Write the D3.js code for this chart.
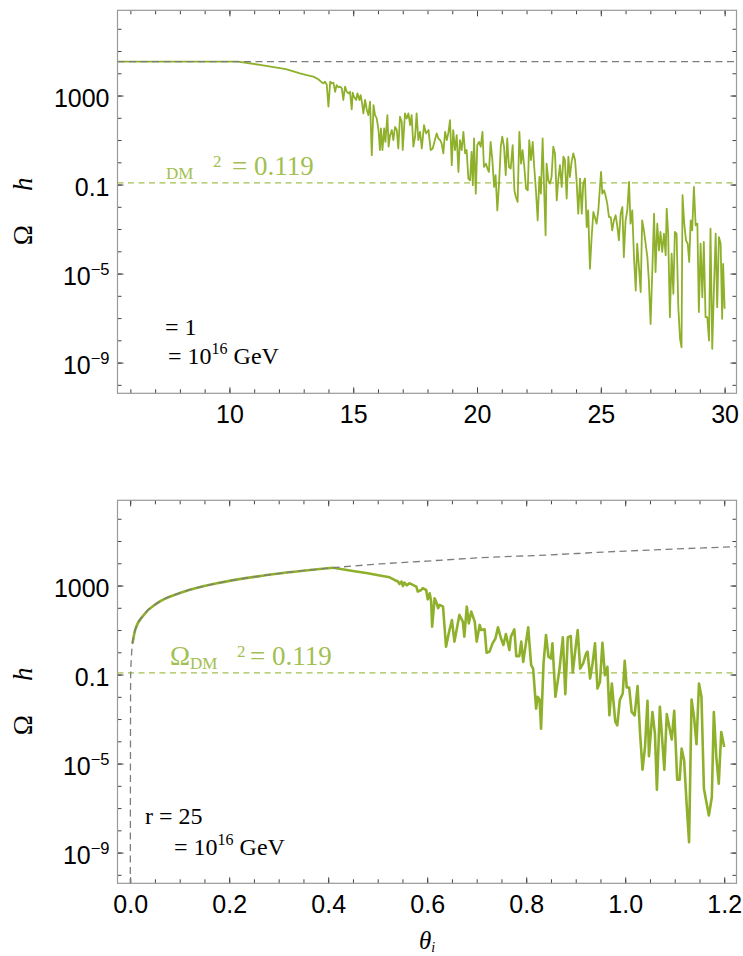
<!DOCTYPE html>
<html>
<head>
<meta charset="utf-8">
<script src="https://cdn.jsdelivr.net/npm/d3@7"></script>
<style>
  body { margin: 0; background: #fff; }
  svg text { fill: #000; }
</style>
</head>
<body>
<div id="chart"></div>
<script>

// ---- data (theta, log10 of Omega h^2) ----

// upper panel, r = 1
const topFreeTheta = [5.48, 30.48];
const topFreeLog = [4.52, 4.52];

const topNumTheta = [
    5.48, 10.35, 11.30, 12.28, 12.85, 13.12, 13.39, 13.59, 13.73, 13.80,
    13.86, 13.93, 14.00, 14.07, 14.13, 14.20, 14.27, 14.33, 14.40, 14.47,
    14.54, 14.60, 14.67, 14.74, 14.81, 14.87, 14.94, 14.98, 15.03, 15.12,
    15.17, 15.25, 15.30, 15.36, 15.41, 15.48, 15.55, 15.61, 15.68, 15.75,
    15.82, 15.88, 15.95, 16.02, 16.08, 16.12, 16.18, 16.25, 16.30, 16.38,
    16.43, 16.49, 16.56, 16.62, 16.69, 16.76, 16.82, 16.89, 16.96, 17.00,
    17.09, 17.16, 17.23, 17.30, 17.36, 17.43, 17.50, 17.56, 17.63, 17.70,
    17.77, 17.86, 17.94, 18.04, 18.13, 18.21, 18.30, 18.37, 18.44, 18.51,
    18.57, 18.64, 18.71, 18.78, 18.84, 18.91, 18.98, 19.04, 19.11, 19.18,
    19.25, 19.31, 19.38, 19.45, 19.52, 19.58, 19.65, 19.72, 19.78, 19.83,
    19.88, 19.95, 20.01, 20.08, 20.15, 20.22, 20.28, 20.36, 20.42, 20.48,
    20.55, 20.62, 20.69, 20.75, 20.82, 20.89, 20.96, 21.02, 21.09, 21.16,
    21.22, 21.29, 21.36, 21.44, 21.51, 21.57, 21.64, 21.71, 21.78, 21.84,
    21.91, 21.98, 22.05, 22.11, 22.18, 22.25, 22.31, 22.38, 22.45, 22.52,
    22.58, 22.65, 22.72, 22.77, 22.81, 22.88, 22.95, 23.01, 23.08, 23.15,
    23.22, 23.28, 23.35, 23.42, 23.49, 23.55, 23.62, 23.69, 23.75, 23.82,
    23.89, 23.96, 24.02, 24.09, 24.16, 24.23, 24.29, 24.36, 24.43, 24.49,
    24.56, 24.63, 24.70, 24.76, 24.83, 24.90, 24.97, 25.01, 25.06, 25.13,
    25.19, 25.26, 25.33, 25.40, 25.46, 25.53, 25.60, 25.67, 25.73, 25.80,
    25.87, 25.93, 26.00, 26.07, 26.14, 26.20, 26.27, 26.34, 26.41, 26.47,
    26.54, 26.61, 26.67, 26.74, 26.81, 26.88, 26.94, 27.01, 27.08, 27.15,
    27.21, 27.28, 27.35, 27.41, 27.48, 27.55, 27.62, 27.66, 27.72, 27.79,
    27.86, 27.93, 27.99, 28.06, 28.13, 28.20, 28.26, 28.30, 28.37, 28.44,
    28.51, 28.57, 28.63, 28.69, 28.76, 28.83, 28.90, 28.96, 29.03, 29.10,
    29.16, 29.23, 29.30, 29.37, 29.43, 29.50, 29.57, 29.64, 29.70, 29.77,
    29.84, 29.90, 29.94, 30.00
];
const topNumLog = [
    4.52, 4.52, 4.37, 4.19, 4.00, 3.92, 3.85, 3.73, 3.59, 3.55,
    3.62, 3.50, 2.50, 3.62, 3.55, 3.58, 3.17, 3.47, 3.37, 3.40,
    3.32, 2.80, 3.40, 3.17, 3.10, 3.17, 2.38, 3.13, 2.95, 2.80,
    3.10, 2.80, 3.02, 2.65, 2.20, 2.80, 2.35, 2.12, 2.72, 0.32,
    2.57, 2.12, 1.97, 1.45, 0.55, 1.52, 0.55, 1.52, 0.92, 2.12,
    0.70, 1.22, 1.45, 1.00, 1.59, 1.45, 0.62, 2.05, 1.82, 0.55,
    2.20, 1.97, 2.20, 1.67, 2.12, 0.70, 1.15, 2.20, 1.00, 1.37,
    0.62, 1.67, 1.30, 1.45, 0.55, 0.62, 1.00, 1.30, 1.07, 1.00,
    0.85, 0.40, 1.37, 1.00, 1.30, 1.89, -0.13, 1.45, 0.55, 1.22,
    -0.43, 1.00, 0.55, 1.37, 0.40, 0.55, -0.73, -0.81, 0.47, -1.03,
    1.07, -1.41, 0.77, 0.92, 0.70, 1.37, -0.21, -0.06, -0.28, -0.43,
    0.92, 0.10, -1.11, -0.58, -2.16, -0.96, 0.70, 1.15, 0.70, -0.58,
    1.07, -0.21, -0.28, 0.77, -1.26, -1.56, -1.78, 1.37, -0.06, 0.55,
    -0.21, -1.18, -1.26, 1.00, 0.10, 0.92, -0.21, -1.26, -2.61, -0.66,
    -1.41, 1.07, -1.56, -3.28, -0.06, -0.81, -0.96, -0.66, 0.70, 0.40,
    -1.71, -0.81, -0.13, -1.11, 0.25, 0.10, -1.63, 0.25, -0.66, 0.02,
    0.40, 0.10, -0.81, -2.31, -0.73, -2.31, -0.96, -0.73, -2.91, -2.16,
    -4.78, -3.36, -2.23, -2.46, -2.76, -2.16, -1.03, -0.43, -1.41, -1.26,
    -1.48, -1.86, -2.46, -2.46, -3.06, -2.61, -2.38, -2.91, -3.51, -2.31,
    -2.01, -4.26, -2.61, -2.16, -0.88, -2.76, -2.16, -4.26, -5.76, -3.66,
    -4.71, -5.83, -2.61, -3.06, -3.66, -4.26, -5.31, -7.26, -4.86, -2.31,
    -4.93, -2.76, -3.96, -3.13, -4.03, -3.21, -4.18, -2.08, -3.21, -6.96,
    -4.11, -5.91, -3.13, -3.21, -6.51, -7.93, -8.31, -1.48, -2.76, -3.51,
    -3.66, -4.48, -2.61, -3.06, -1.11, -2.83, -2.76, -6.73, -3.66, -6.06,
    -3.58, -6.96, -6.96, -8.01, -2.98, -8.38, -5.61, -3.21, -6.51, -3.36,
    -3.66, -7.03, -4.56, -6.58
];

// lower panel, r = 25
const botFreeTheta = [
    0.0002, 0.001, 0.0025, 0.0047, 0.010, 0.027, 0.054, 0.108, 0.175, 0.276,
    0.410, 0.504, 0.600, 0.700, 0.840, 1.000, 1.100, 1.224
];
const botFreeLog = [
    -11, -1.00, -0.20, 0.40, 1.00, 1.67, 2.20, 2.72, 3.10, 3.47,
    3.80, 3.97, 4.10, 4.24, 4.37, 4.55, 4.64, 4.75
];

const botRiseTheta = [0.0047, 0.010, 0.027, 0.054, 0.108, 0.175, 0.276, 0.410];
const botRiseLog = [0.40, 1.00, 1.67, 2.20, 2.72, 3.10, 3.47, 3.80];

const botNumTheta = [
    0.410, 0.450, 0.480, 0.504, 0.524, 0.534, 0.541, 0.544, 0.548, 0.551,
    0.554, 0.559, 0.564, 0.571, 0.578, 0.581, 0.588, 0.591, 0.598, 0.601,
    0.605, 0.608, 0.610, 0.615, 0.618, 0.622, 0.625, 0.632, 0.638, 0.645,
    0.650, 0.655, 0.665, 0.672, 0.675, 0.680, 0.684, 0.689, 0.696, 0.700,
    0.706, 0.709, 0.716, 0.720, 0.726, 0.732, 0.738, 0.743, 0.749, 0.754,
    0.759, 0.766, 0.769, 0.776, 0.780, 0.786, 0.790, 0.794, 0.804, 0.810,
    0.814, 0.820, 0.823, 0.827, 0.830, 0.835, 0.840, 0.845, 0.850, 0.853,
    0.859, 0.867, 0.874, 0.879, 0.884, 0.890, 0.894, 0.900, 0.904, 0.909,
    0.915, 0.921, 0.924, 0.929, 0.934, 0.939, 0.944, 0.949, 0.954, 0.959,
    0.964, 0.968, 0.973, 0.980, 0.984, 0.989, 0.995, 0.999, 1.003, 1.008,
    1.013, 1.019, 1.025, 1.030, 1.035, 1.040, 1.045, 1.048, 1.055, 1.060,
    1.064, 1.070, 1.079, 1.084, 1.089, 1.094, 1.099, 1.105, 1.110, 1.114,
    1.119, 1.124, 1.129, 1.134, 1.139, 1.144, 1.149, 1.154, 1.159, 1.169,
    1.175, 1.179, 1.184, 1.189, 1.194, 1.200
];
const botNumLog = [
    3.80, 3.65, 3.55, 3.45, 3.37, 3.25, 3.18, 3.07, 3.18, 2.98,
    3.13, 3.01, 3.10, 3.03, 2.95, 2.73, 2.80, 2.88, 2.80, 2.38,
    2.65, 2.28, 1.15, 2.43, 2.28, 1.98, 2.13, 2.05, 0.25, 1.00,
    1.45, 0.48, 1.68, 1.38, 0.70, 2.05, 1.30, 1.83, 1.38, 0.48,
    1.23, 1.00, 1.03, -0.02, 0.03, 0.40, 0.63, 1.12, 0.63, 0.33,
    0.82, 0.10, 0.70, 1.03, -0.17, -0.17, 0.48, -0.43, 1.12, -0.58,
    -0.73, -2.53, -2.00, -2.12, -3.43, -0.50, 0.78, -0.20, -0.28, 0.40,
    -2.00, -0.80, 0.67, -1.88, 0.67, 0.73, -0.91, 0.25, 1.00, -0.73,
    -0.50, -0.05, 0.03, -1.18, -0.50, 0.40, -1.63, -1.33, 0.43, -1.03,
    -0.65, -2.83, -1.40, -3.13, -3.28, -2.15, -1.85, -0.38, -1.58, -1.58,
    -2.68, -2.83, -1.52, -3.65, -5.27, -4.25, -2.18, -4.67, -2.68, -3.65,
    -6.17, -2.45, -5.27, -2.78, -3.35, -3.92, -2.63, -5.72, -5.72, -4.33,
    -4.85, -6.80, -8.53, -2.12, -2.90, -4.13, -1.40, -2.00, -6.13, -7.33,
    -6.50, -2.68, -4.70, -5.90, -3.58, -4.25
];

const omegaDM = 0.119;

// axis ticks
const yMajor = [1e-9, 1e-5, 0.1, 1000];
const yMinorExp = d3.range(-10, 7);
const topXMajor = [10, 15, 20, 25, 30];
const topXMinor = d3.range(6, 31);
const botXMajor = [0, 0.2, 0.4, 0.6, 0.8, 1.0, 1.2];
const botXMinor = d3.range(0, 25).map(i => i * 0.05);

// ---- layout ----
const width = 743, height = 956;
const frameLeft = 117.5, frameRight = 736.5;
const frameH = 383;
const green = "#8fb02b";
const greenLight = "#a2c04f";
const gray = "#7d7d7d";
const sansFont = "'Liberation Sans', Arial, Helvetica, sans-serif";
const serifFont = "'Liberation Serif', 'Times New Roman', serif";

const svg = d3.select("#chart")
    .append("svg")
    .attr("width", width)
    .attr("height", height);

const y = d3.scaleLog()
    .domain([Math.pow(10, -10.38), Math.pow(10, 6.83)])
    .range([frameH, 0]);

function drawPanel(top, xDomain, xMajor, xMinor, xFormat, id) {
    const g = svg.append("g").attr("transform", `translate(0, ${top})`);
    const x = d3.scaleLinear().domain(xDomain).range([frameLeft, frameRight]);

    g.append("clipPath").attr("id", id)
        .append("rect")
        .attr("x", frameLeft).attr("y", 0)
        .attr("width", frameRight - frameLeft).attr("height", frameH);

    // ticks on all four sides, pointing in
    const axes = [
        [d3.axisBottom(x).tickValues(xMajor).tickSize(-6).tickPadding(12).tickFormat(xFormat), `translate(0, ${frameH})`],
        [d3.axisBottom(x).tickValues(xMinor).tickSize(-4).tickFormat(""), `translate(0, ${frameH})`],
        [d3.axisTop(x).tickValues(xMajor).tickSize(-6).tickFormat(""), "translate(0, 0)"],
        [d3.axisTop(x).tickValues(xMinor).tickSize(-4).tickFormat(""), "translate(0, 0)"],
        [d3.axisLeft(y).tickValues(yMajor).tickSize(-6).tickPadding(8).tickFormat(""), `translate(${frameLeft}, 0)`],
        [d3.axisLeft(y).tickValues(yMinorExp.map(e => Math.pow(10, e))).tickSize(-4).tickFormat(""), `translate(${frameLeft}, 0)`],
        [d3.axisRight(y).tickValues(yMajor).tickSize(-6).tickFormat(""), `translate(${frameRight}, 0)`],
        [d3.axisRight(y).tickValues(yMinorExp.map(e => Math.pow(10, e))).tickSize(-4).tickFormat(""), `translate(${frameRight}, 0)`]
    ];
    axes.forEach(([axis, tr], i) => {
        const a = g.append("g").attr("transform", tr).call(axis);
        a.select(".domain").remove();
        a.selectAll(".tick line").attr("stroke", "#444").attr("stroke-width", 1);
        a.selectAll(".tick text")
            .attr("font-family", sansFont)
            .attr("font-size", 25)
            .attr("fill", "#000");
        if (i === 4) {
            // y labels with superscripts
            a.selectAll(".tick text").each(function (d) {
                const t = d3.select(this).text("").attr("dy", "0.45em");
                const e = Math.round(Math.log10(d));
                if (e < -2) {
                    t.append("tspan").text("10");
                    t.append("tspan").attr("font-size", 16.5).attr("dy", -10).text("\u2212" + (-e));
                } else {
                    t.text(d3.format("~g")(d));
                }
            });
        }
    });

    // frame
    g.append("rect")
        .attr("x", frameLeft).attr("y", 0)
        .attr("width", frameRight - frameLeft).attr("height", frameH)
        .attr("fill", "none")
        .attr("stroke", "#9a9a9a")
        .attr("stroke-width", 1.2);

    return { g, x };
}

function linePath(x, curve) {
    return d3.line()
        .x(d => x(d[0]))
        .y(d => y(Math.pow(10, d[1])))
        .curve(curve || d3.curveLinear);
}

// ---------- upper panel ----------
const P1 = drawPanel(10.3, [5.48, 30.48], topXMajor, topXMinor, d3.format("d"), "clipTop");
const plot1 = P1.g.append("g").attr("clip-path", "url(#clipTop)");

plot1.append("line")
    .attr("x1", frameLeft).attr("x2", frameRight)
    .attr("y1", y(omegaDM)).attr("y2", y(omegaDM))
    .attr("stroke", greenLight).attr("stroke-width", 1.3)
    .attr("stroke-dasharray", "6,4.5");

plot1.append("path")
    .datum(d3.zip(topNumTheta, topNumLog))
    .attr("d", linePath(P1.x))
    .attr("fill", "none").attr("stroke", green)
    .attr("stroke-width", 1.8).attr("stroke-linejoin", "round");

plot1.append("path")
    .datum(d3.zip(topFreeTheta, topFreeLog))
    .attr("d", linePath(P1.x))
    .attr("fill", "none").attr("stroke", gray)
    .attr("stroke-width", 1.3).attr("stroke-dasharray", "7,4.5");

// ---------- lower panel ----------
const P2 = drawPanel(500.3, [-0.0256, 1.2248], botXMajor, botXMinor, d3.format(".1f"), "clipBot");
const plot2 = P2.g.append("g").attr("clip-path", "url(#clipBot)");

plot2.append("line")
    .attr("x1", frameLeft).attr("x2", frameRight)
    .attr("y1", y(omegaDM)).attr("y2", y(omegaDM))
    .attr("stroke", greenLight).attr("stroke-width", 1.3)
    .attr("stroke-dasharray", "6,4.5");

plot2.append("path")
    .datum(d3.zip(botRiseTheta, botRiseLog))
    .attr("d", linePath(P2.x, d3.curveMonotoneX))
    .attr("fill", "none").attr("stroke", green)
    .attr("stroke-width", 2.6);

plot2.append("path")
    .datum(d3.zip(botNumTheta, botNumLog))
    .attr("d", linePath(P2.x))
    .attr("fill", "none").attr("stroke", green)
    .attr("stroke-width", 2.6).attr("stroke-linejoin", "round");

plot2.append("path")
    .datum(d3.zip(botFreeTheta, botFreeLog))
    .attr("d", linePath(P2.x, d3.curveMonotoneX))
    .attr("fill", "none").attr("stroke", gray)
    .attr("stroke-width", 1.3).attr("stroke-dasharray", "7,4.5");

// ---------- labels (panel-local coordinates) ----------
function yLabel(g) {
    g.append("text")
        .attr("transform", "translate(32, 225) rotate(-90)")
        .attr("text-anchor", "middle")
        .attr("font-family", serifFont).attr("font-size", 27)
        .text("\u03A9");
    g.append("text")
        .attr("transform", "translate(32, 174) rotate(-90)")
        .attr("text-anchor", "middle")
        .attr("font-family", serifFont).attr("font-size", 27)
        .attr("font-style", "italic")
        .text("h");
}
yLabel(P1.g);
yLabel(P2.g);

function greenLabel(g, xs, withOmega) {
    const t = g.append("g").attr("font-family", serifFont);
    if (withOmega) {
        t.append("text").attr("x", xs[0]).attr("y", 165).attr("font-size", 27)
            .style("fill", greenLight).text("\u03A9");
    }
    t.append("text").attr("x", xs[1]).attr("y", 168.5).attr("font-size", 17)
        .style("fill", greenLight).text("DM");
    t.append("text").attr("x", xs[2]).attr("y", 156.5).attr("font-size", 17)
        .style("fill", greenLight).text("2");
    t.append("text").attr("x", xs[3]).attr("y", 165).attr("font-size", 27)
        .style("fill", greenLight).text("= 0.119");
}
greenLabel(P1.g, [0, 166, 213, 232], false);
greenLabel(P2.g, [170, 190, 237, 250], true);

function scaleLabel(g, x, yy) {
    const t = g.append("text")
        .attr("x", x).attr("y", yy)
        .attr("font-family", serifFont).attr("font-size", 24);
    t.append("tspan").text("= 10");
    t.append("tspan").attr("font-size", 16).attr("dy", -10).text("16");
    t.append("tspan").attr("dy", 10).text(" GeV");
}

P1.g.append("text")
    .attr("x", 165).attr("y", 324.7)
    .attr("font-family", serifFont).attr("font-size", 24)
    .text("= 1");
scaleLabel(P1.g, 168, 353.7);

P2.g.append("text")
    .attr("x", 145).attr("y", 324.2)
    .attr("font-family", serifFont).attr("font-size", 24)
    .text("r = 25");
scaleLabel(P2.g, 174, 354.7);

// x axis title
const xt = svg.append("text")
    .attr("x", 419).attr("y", 949)
    .attr("font-family", serifFont).attr("font-size", 25)
    .attr("font-style", "italic");
xt.append("tspan").text("\u03B8");
xt.append("tspan").attr("font-size", 14).attr("dy", 3).text("i");

</script>
</body>
</html>
